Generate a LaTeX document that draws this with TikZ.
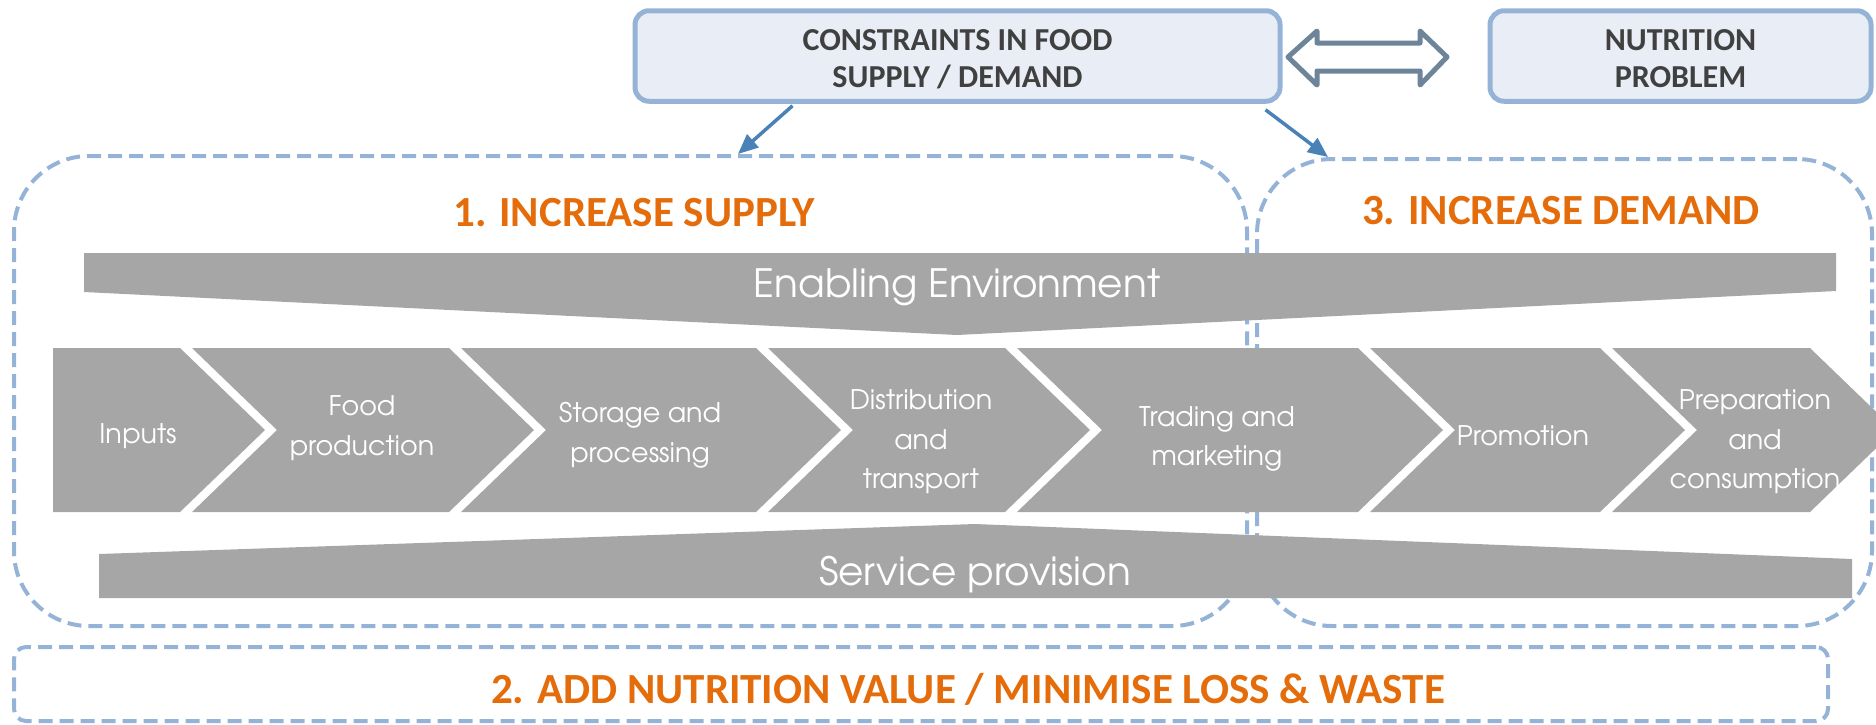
\documentclass[tikz,border=0pt]{standalone}
\usepackage{fontspec}
\setmainfont{Carlito}
\newfontfamily\cg{texgyreadventor-regular.otf}
\usetikzlibrary{arrows.meta,calc}
\definecolor{boxblue}{HTML}{95B3D7}
\definecolor{boxfill}{HTML}{E9EEF6}
\definecolor{darktext}{HTML}{404040}
\definecolor{dashblue}{HTML}{95B3D7}
\definecolor{orange1}{HTML}{E46C0A}
\definecolor{band}{HTML}{A6A6A6}
\definecolor{linkblue}{HTML}{4A82B8}
\definecolor{slate}{HTML}{6E8599}
\begin{document}
\begin{tikzpicture}[x=1pt,y=-1pt,
  box/.style={draw=boxblue, fill=boxfill, line width=5pt, rounded corners=14pt, font=\bfseries\fontsize{32}{37}\selectfont, text=darktext, align=center, inner sep=0pt},
  zone/.style={draw=dashblue, line width=4pt, dash pattern=on 14pt off 7pt, inner sep=0pt},
  title/.style={text=orange1, font=\bfseries\fontsize{43}{50}\selectfont, inner sep=0pt},
  chevtext/.style={text=white, font=\cg\fontsize{27}{39.5}\selectfont, align=center, inner sep=0pt},
  bandtext/.style={text=white, font=\cg\fontsize{39}{42}\selectfont, inner sep=0pt},
  grayshape/.style={fill=band, draw=none},
  link/.style={draw=linkblue, line width=3.5pt, -{Triangle[length=20pt,width=17pt]}},
  dblarrow/.style={draw=slate, fill=white, line width=5pt, line join=round},
]
\useasboundingbox (0,0) rectangle (1876,724);

% dashed zones
\node[zone, rounded corners=75pt, minimum width=1233pt, minimum height=470pt] (supply) at (630.5,391) {};
\node[zone, rounded corners=75pt, minimum width=615pt, minimum height=467pt] (demand) at (1564.5,392.5) {};
\node[zone, rounded corners=12pt, minimum width=1814pt, minimum height=74pt] (value) at (921,684) {};

% titles
\node[title] (t1) at (634,213) {1. INCREASE SUPPLY};
\node[title] (t3) at (1561,211) {3. INCREASE DEMAND};
\node[title] (t2) at (968,689) {2. ADD NUTRITION VALUE / MINIMISE LOSS \& WASTE};

% enabling environment band
\fill[grayshape] (84,253) -- (1836,253) -- (1836,291) -- (957,335) -- (84,292) -- cycle;
\node[bandtext] (ee) at (957,287) {Enabling Environment};

% service provision band
\fill[grayshape] (99,554) -- (975,524) -- (1852,559) -- (1852,598) -- (99,598) -- cycle;
\node[bandtext] (sp) at (975,575) {Service provision};

% chevrons
\newcommand{\chevron}[2]{\fill[grayshape] (#1,348) -- (#2,348) -- ({#2+85},430) -- (#2,512) -- (#1,512) -- ({#1+85},430) -- cycle;}
\fill[grayshape] (53,348) -- (180,348) -- (265,430) -- (180,512) -- (53,512) -- cycle;
\chevron{192}{449}
\chevron{461}{756}
\chevron{768}{1005}
\chevron{1017}{1358}
\chevron{1370}{1600}
\chevron{1612}{1810}

\node[chevtext] (c1) at (138,436) {Inputs};
\node[chevtext] (c2) at (362,428) {Food\\production};
\node[chevtext] (c3) at (640,435) {Storage and\\processing};
\node[chevtext] (c4) at (921,442) {Distribution\\and\\transport};
\node[chevtext] (c5) at (1217,439) {Trading and\\marketing};
\node[chevtext] (c6) at (1523,436) {Promotion};
\node[chevtext] (c7) at (1755,442) {Preparation\\and\\consumption};

% top boxes
\node[box, minimum width=645pt, minimum height=90.5pt] (cons) at (957.5,56) {};
\node[box, minimum width=381pt, minimum height=90.5pt] (nut) at (1680.5,56) {};
\node[text=darktext, font=\bfseries\fontsize{32}{37}\selectfont, align=center, inner sep=0pt] (constext) at (957.5,59) {CONSTRAINTS IN FOOD\\SUPPLY / DEMAND};
\node[text=darktext, font=\bfseries\fontsize{32}{37}\selectfont, align=center, inner sep=0pt] (nuttext) at (1680.5,59) {NUTRITION\\PROBLEM};

% double arrow between boxes
\draw[dblarrow] (1288,57) -- (1317,31) -- (1317,43) -- (1420,43) -- (1420,31) -- (1447,57) -- (1420,85) -- (1420,71) -- (1317,71) -- (1317,85) -- cycle;

% links
\draw[link] ($(cons.south west)+(160,2)$) -- ($(supply.north west)+(726,0)$);
\draw[link] ($(cons.south east)+(-17,6)$) -- ($(demand.north west)+(73,0)$);
\end{tikzpicture}
\end{document}
